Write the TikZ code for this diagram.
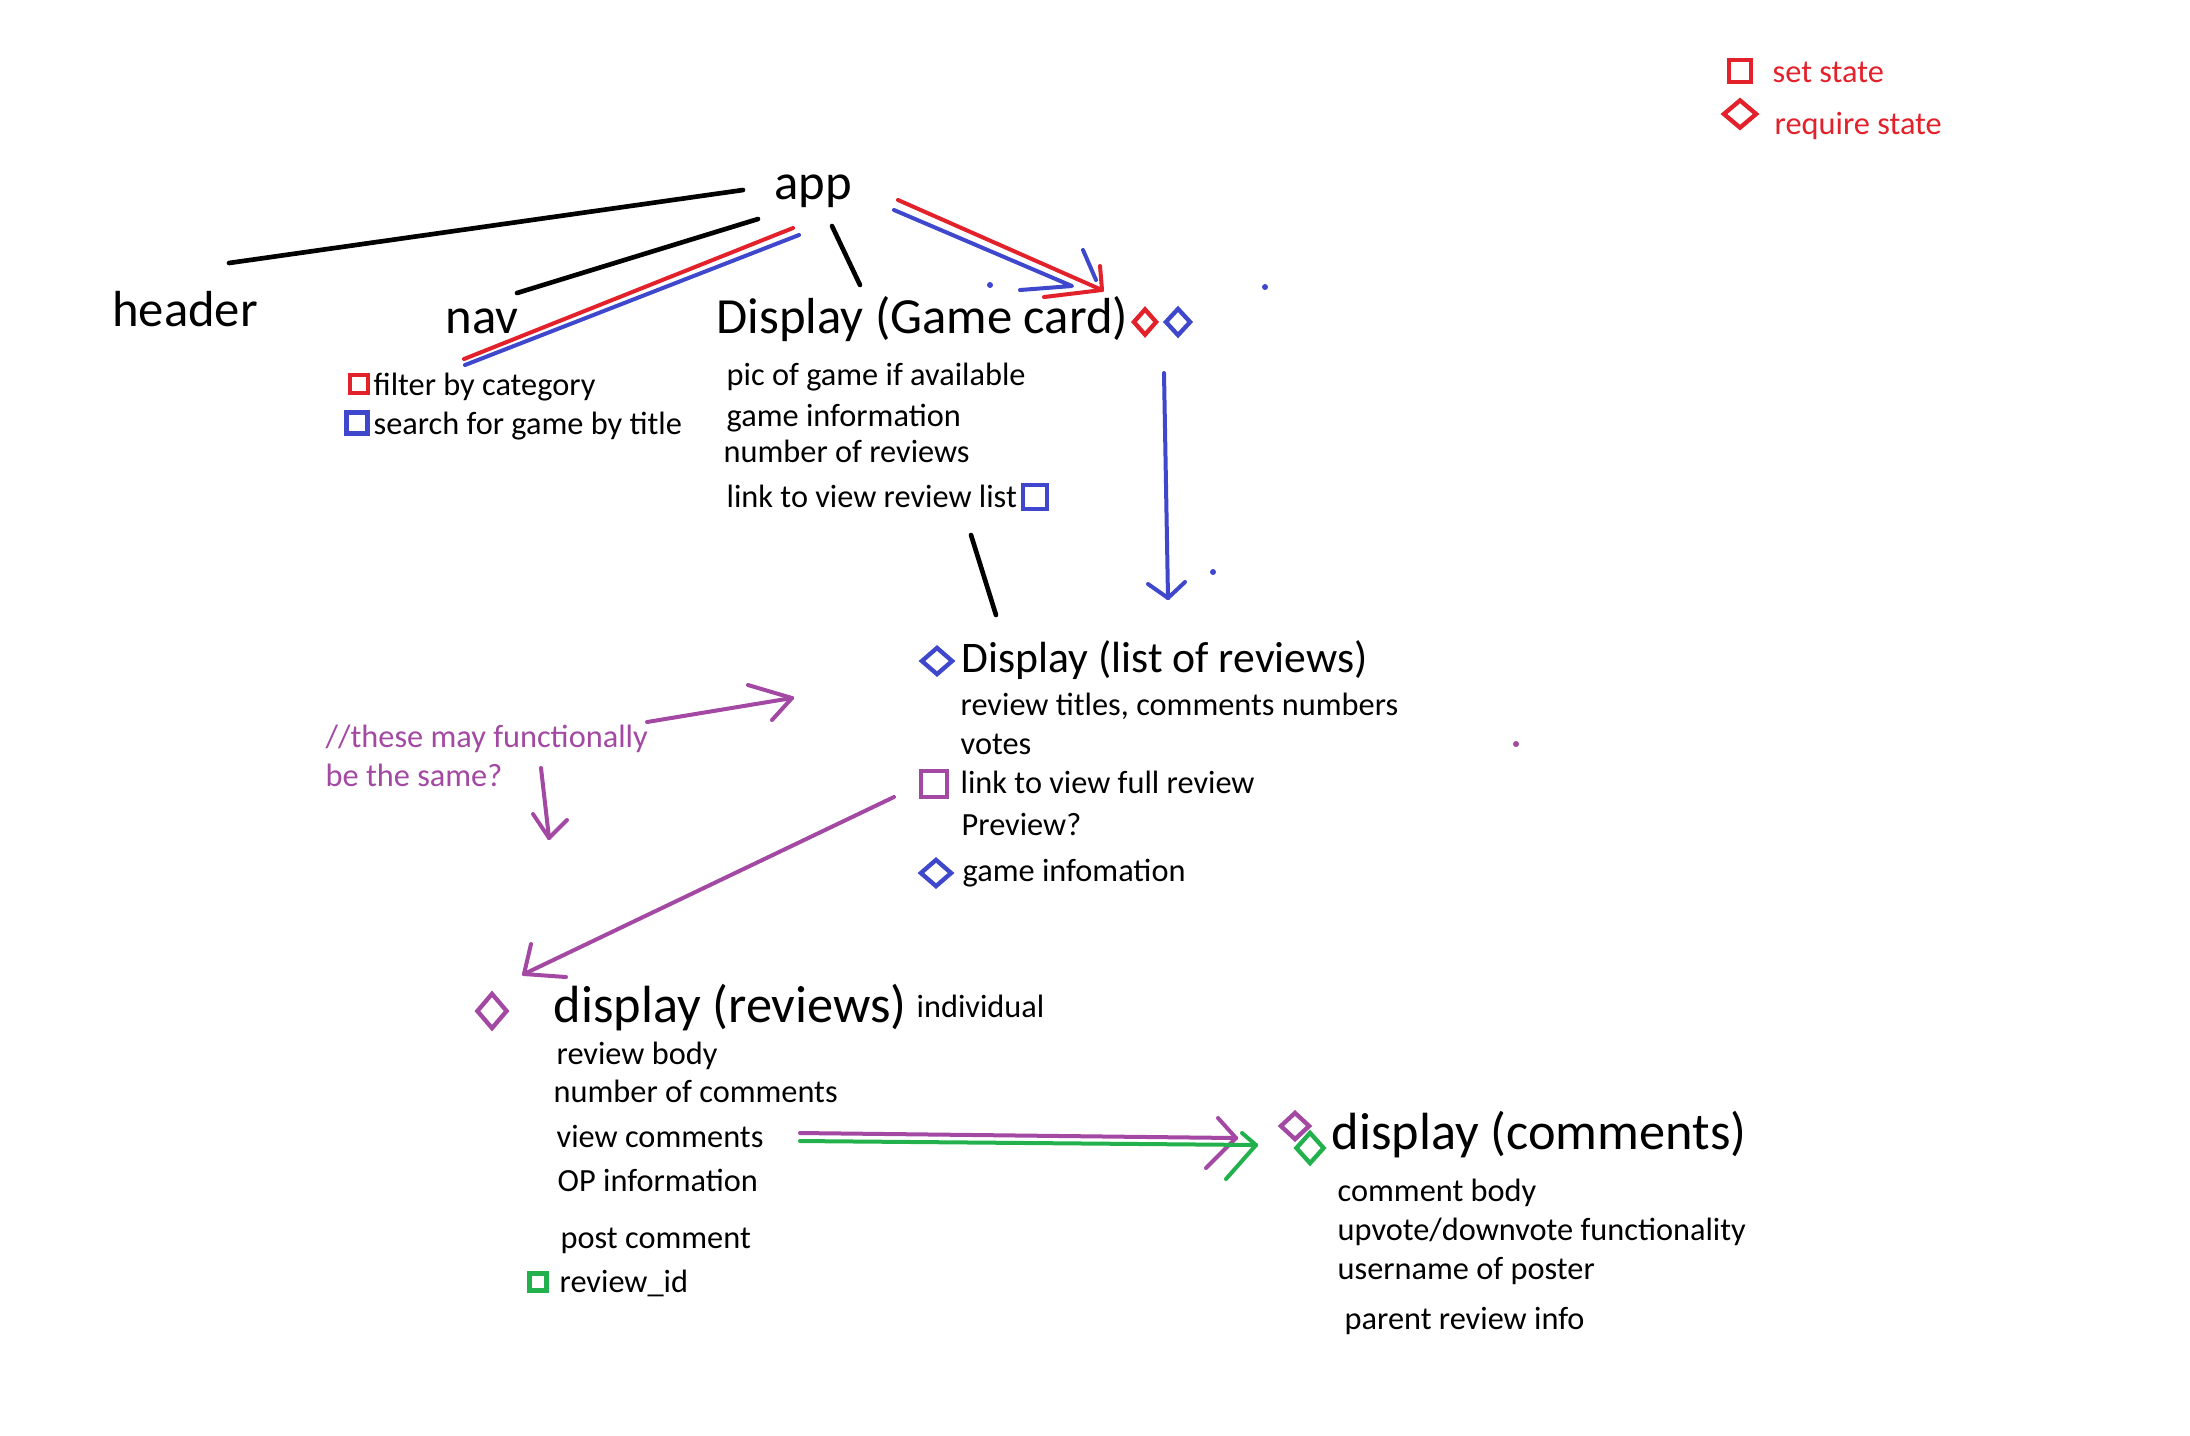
\documentclass[tikz,border=0pt]{standalone}
\usepackage{fontspec}
\setmainfont{Carlito}
\usetikzlibrary{shapes.geometric}
\definecolor{pred}{HTML}{E3212B}
\definecolor{pblue}{HTML}{3F48CC}
\definecolor{ppurple}{HTML}{A349A4}
\definecolor{pgreen}{HTML}{22B14C}
\begin{document}
\begin{tikzpicture}[x=0.3pt,y=-0.3pt,
  txt/.style={anchor=west,inner sep=0pt,text height=0.7em,text depth=0.2em,font=\fontsize{9.7}{11}\selectfont},
  hd/.style={txt,font=\fontsize{15.2}{17}\selectfont},
  hdw/.style={txt,font=\fontsize{15.7}{17}\selectfont},
  hdm/.style={txt,font=\fontsize{13.1}{15}\selectfont},
  sqbox/.style={draw,rectangle,inner sep=0pt,line width=1.3pt,minimum size=#1*0.3pt},
  dmd/.style 2 args={draw,diamond,inner sep=0pt,line width=1.3pt,minimum width=#1*0.3pt,minimum height=#2*0.3pt},
  blk/.style={line width=1.4pt,line cap=round},
  col/.style={line width=1.2pt,line cap=round,line join=round}]
\useasboundingbox (0,0) rectangle (2190,1435);
\fill[white] (0,0) rectangle (2190,1435);

% legend
\node[sqbox=22,draw=pred] (lsq) at (1740,71) {};
\node[txt,text=pred] (lset) at (1772,74) {set state};
\node[dmd={34}{29},draw=pred] (ldm) at (1740,114) {};
\node[txt,text=pred] (lreq) at (1774,126) {require state};

% top row
\node[hd,anchor=center] (app) at (813,191) {app};
\node[hd,anchor=center] (header) at (185,318) {header};
\node[hd,anchor=center] (nav) at (482,325) {nav};
\node[hd] (gc) at (716,325) {Display (Game card)};
\node[dmd={24}{27},draw=pred] (gcr) at (1145,322) {};
\node[dmd={26}{28},draw=pblue] (gcb) at (1178,322) {};

% nav items
\node[sqbox=18,draw=pred] (nsq1) at (359,384) {};
\node[txt] (filt) at (373,387) {filter by category};
\node[sqbox=21,draw=pblue] (nsq2) at (357,423) {};
\node[txt] (srch) at (373,426) {search for game by title};

% game card items
\node[txt] (pic) at (726,377) {pic of game if available};
\node[txt] (ginfo) at (726,418) {game information};
\node[txt] (nrev) at (723,454) {number of reviews};
\node[txt] (lrev) at (726,499) {link to view review list};
\node[sqbox=24,draw=pblue] (lsq2) at (1035,497) {};

% list of reviews
\node[dmd={32}{28},draw=pblue] (ldb) at (937,661) {};
\node[hdm] (lor) at (961,664) {Display (list of reviews)};
\node[txt] (rt) at (960,707) {review titles, comments numbers};
\node[txt] (votes) at (960,746) {votes};
\node[sqbox=26,draw=ppurple] (psq) at (934,784) {};
\node[txt] (lfull) at (960,785) {link to view full review};
\node[txt] (prev) at (961,827) {Preview?};
\node[dmd={32}{28},draw=pblue] (gidm) at (936,873) {};
\node[txt] (ginf2) at (962,873) {game infomation};

% note
\node[txt,text=ppurple] (note1) at (325,739) {//these may functionally};
\node[txt,text=ppurple] (note2) at (325,778) {be the same?};

% reviews
\node[dmd={31}{36},draw=ppurple] (rdm) at (492,1011) {};
\node[hdw] (rev) at (553,1014) {display (reviews)};
\node[txt] (indiv) at (916,1009) {individual};
\node[txt] (rbody) at (556,1056) {review body};
\node[txt] (ncom) at (553,1094) {number of comments};
\node[txt] (vcom) at (556,1139) {view comments};
\node[txt] (op) at (557,1183) {OP information};
\node[txt] (pcom) at (560,1240) {post comment};
\node[sqbox=17,draw=pgreen] (gsq) at (538,1282) {};
\node[txt] (rid) at (559,1284) {review\_id};

% comments
\node[dmd={30}{28},draw=ppurple] (cdp) at (1295,1126) {};
\node[dmd={29}{32},draw=pgreen] (cdg) at (1310,1148) {};
\node[hdw] (com) at (1331,1141) {display (comments)};
\node[txt] (cbody) at (1337,1193) {comment body};
\node[txt] (updn) at (1337,1232) {upvote/downvote functionality};
\node[txt] (user) at (1337,1271) {username of poster};
\node[txt] (parent) at (1344,1321) {parent review info};

% connector end points
\coordinate (h1) at (229,263); \coordinate (h2) at (743,190);
\coordinate (n1) at (517,293); \coordinate (n2) at (758,219);
\coordinate (d1) at (860,285); \coordinate (d2) at (832,226);
\coordinate (rn1) at (464,359); \coordinate (rn2) at (793,228);
\coordinate (bn1) at (465,365); \coordinate (bn2) at (799,235);
\coordinate (ra1) at (898,200); \coordinate (ra2) at (1102,290);
\coordinate (ba1) at (894,210); \coordinate (ba2) at (1072,286);
\coordinate (bs1) at (1083,250); \coordinate (bs2) at (1096,280);
\coordinate (bv1) at (1164,373); \coordinate (bv2) at (1168,598);
\coordinate (k1) at (971,535); \coordinate (k2) at (996,615);
\coordinate (pa1) at (647,722); \coordinate (pa2) at (792,698);
\coordinate (pd1) at (541,768); \coordinate (pd2) at (549,838);
\coordinate (pl1) at (894,797); \coordinate (pl2) at (524,974);
\coordinate (ph1) at (800,1133); \coordinate (ph2) at (1236,1138);
\coordinate (gh1) at (800,1141); \coordinate (gh2) at (1256,1145);

% black lines
\draw[blk] (h1) -- (h2);
\draw[blk] (n1) -- (n2);
\draw[blk] (d1) -- (d2);
\draw[blk] (k1) -- (k2);

% red / blue from nav
\draw[col,pred] (rn1) -- (rn2);
\draw[col,pblue] (bn1) -- (bn2);

% app to game card arrows
\draw[col,pblue] (ba1) -- (ba2) -- ++(-52,4);
\draw[col,pblue] (bs1) -- (bs2);
\draw[col,pred] (ra1) -- (ra2);
\draw[col,pred] (ra2) -- ++(-58,7);
\draw[col,pred] (ra2) -- ++(-2,-24);

% game card to list of reviews
\draw[col,pblue] (bv1) -- (bv2);
\draw[col,pblue] (bv2) -- ++(-20,-14);
\draw[col,pblue] (bv2) -- ++(17,-16);

% purple note arrows
\draw[col,ppurple] (pa1) -- (pa2);
\draw[col,ppurple] (pa2) -- ++(-44,-13);
\draw[col,ppurple] (pa2) -- ++(-20,22);
\draw[col,ppurple] (pd1) -- (pd2);
\draw[col,ppurple] (pd2) -- ++(-16,-24);
\draw[col,ppurple] (pd2) -- ++(18,-18);

% list -> reviews
\draw[col,ppurple] (pl1) -- (pl2);
\draw[col,ppurple] (pl2) -- ++(7,-30);
\draw[col,ppurple] (pl2) -- ++(42,3);

% reviews -> comments
\draw[col,ppurple] (ph1) -- (ph2);
\draw[col,ppurple] (ph2) -- ++(-18,-20);
\draw[col,ppurple] (ph2) -- ++(-30,30);
\draw[col,pgreen] (gh1) -- (gh2);
\draw[col,pgreen] (gh2) -- ++(-14,-12);
\draw[col,pgreen] (gh2) -- ++(-30,34);

% stray dots
\fill[pblue] (1265,287) circle (3);
\fill[pblue] (1213,572) circle (3);
\fill[pblue] (990,285) circle (3);
\fill[ppurple] (1516,744) circle (3);
\end{tikzpicture}
\end{document}
